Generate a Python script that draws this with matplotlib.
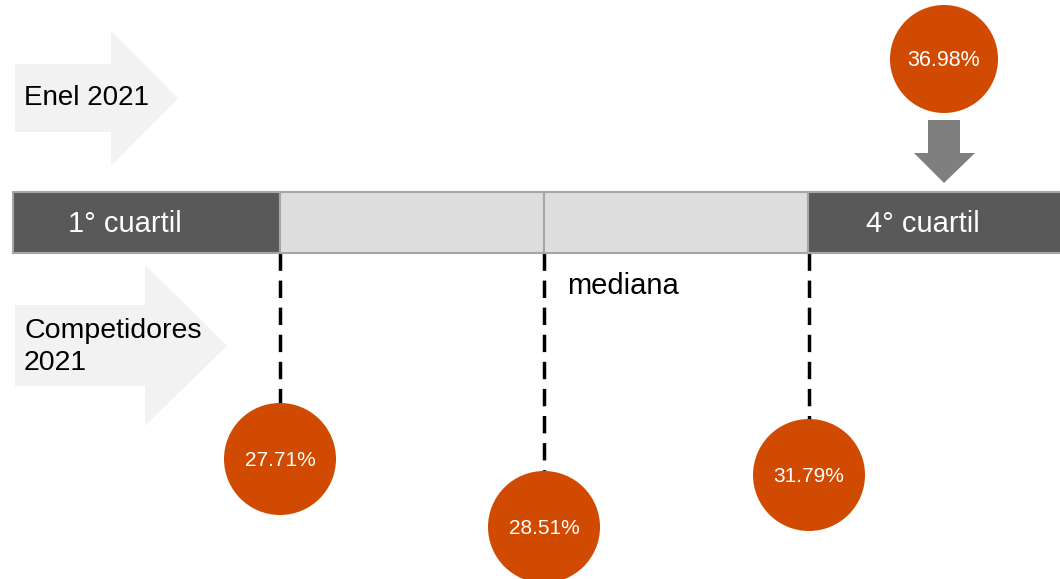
import matplotlib
matplotlib.use('Agg')
import matplotlib.pyplot as plt
from matplotlib.patches import Circle, Polygon, Rectangle

plt.rcParams['font.family'] = ['Liberation Sans', 'DejaVu Sans']

# Datos
cuartiles = ['1° cuartil', '', '', '4° cuartil']
competidores = ['27.71%', '28.51%', '31.79%']
valores_comp = [27.71, 28.51, 31.79]
enel_valor = 36.98

# Colores
NARANJA = '#D04A02'
OSCURO = '#595959'
CLARO = '#DDDDDD'
BORDE = '#A6A6A6'
FLECHA_FONDO = '#F2F2F2'
GRIS_FLECHA = '#7F7F7F'

fig = plt.figure(figsize=(10.6, 5.79), dpi=100)
ax = fig.add_axes([0, 0, 1, 1])
ax.set_xlim(0, 1060)
ax.set_ylim(579, 0)
ax.axis('off')


def flecha_der(x0, xb, xt, yb0, yb1, yh0, yh1):
    """Flecha grande hacia la derecha (fondo)"""
    ymid = (yh0 + yh1) / 2
    pts = [(x0, yb0), (xb, yb0), (xb, yh0), (xt, ymid),
           (xb, yh1), (xb, yb1), (x0, yb1)]
    ax.add_patch(Polygon(pts, closed=True, facecolor=FLECHA_FONDO,
                         edgecolor='none', zorder=0))


# Flechas de fondo
flecha_der(15, 111, 178, 64, 132, 31, 166)
ax.text(24, 98, 'Enel 2021', fontsize=20, va='center', ha='left')

flecha_der(15, 145, 227, 305, 386, 265, 426)
ax.text(24, 347, 'Competidores\n2021', fontsize=20.5, va='center', ha='left',
        linespacing=1.3)

# Barra de cuartiles
bordes = [13, 280, 544, 808, 1062]
colores = [OSCURO, CLARO, CLARO, OSCURO]
y_top, y_bot = 192, 253
for i, lab in enumerate(cuartiles):
    x0, x1 = bordes[i], bordes[i + 1]
    ax.add_patch(Rectangle((x0, y_top), x1 - x0, y_bot - y_top,
                           facecolor=colores[i], edgecolor=BORDE,
                           linewidth=1.5, zorder=2))
    if lab:
        xc = 125 if i == 0 else 923
        ax.text(xc, (y_top + y_bot) / 2 + 1, lab, color='white',
                fontsize=21, ha='center', va='center', zorder=3)

# Competidores: líneas discontinuas + círculos
x_comp = [280, 544, 809]
y_comp = [459, 527, 475]
R = 56
for x, y, val in zip(x_comp, y_comp, valores_comp):
    ax.plot([x, x], [y_bot, y], color='black', linewidth=2.5,
            linestyle=(0, (5, 2.8)), zorder=1)
    ax.add_patch(Circle((x, y), R, facecolor=NARANJA, edgecolor='none',
                        zorder=4))
    ax.text(x, y + 1, f'{val:.2f}%', color='white', fontsize=15,
            ha='center', va='center', zorder=5)

ax.text(567, 286, 'mediana', fontsize=21, ha='left', va='center')

# Enel
ex, ey = 944, 59
ax.add_patch(Circle((ex, ey), 54, facecolor=NARANJA, edgecolor='none',
                    zorder=4))
ax.text(ex, ey + 1, f'{enel_valor:.2f}%', color='white', fontsize=15.5,
        ha='center', va='center', zorder=5)

# Flecha hacia abajo
pts = [(928, 120), (960, 120), (960, 153), (975, 153), (944, 183),
       (914, 153), (928, 153)]
ax.add_patch(Polygon(pts, closed=True, facecolor=GRIS_FLECHA,
                     edgecolor='none', zorder=3))

fig.savefig('out.png', dpi=100, facecolor='white')
